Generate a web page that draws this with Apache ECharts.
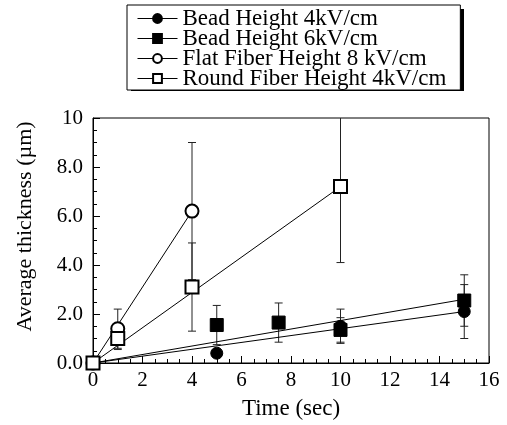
<!DOCTYPE html>
<html>
<head>
<meta charset="utf-8">
<script src="https://cdn.jsdelivr.net/npm/echarts@6/dist/echarts.min.js"></script>
<style>
  html, body { margin: 0; padding: 0; background: #fff; }
  #chart { width: 507px; height: 425px; }
</style>
</head>
<body>
<div id="chart"></div>
<script>
// 数据
const seriesNames = ['Bead Height 4kV/cm', 'Bead Height 6kV/cm', 'Flat Fiber Height 8 kV/cm', 'Round Fiber Height 4kV/cm']

const bead4X = [0, 5, 10, 15]
const bead4Y = [0, 0.4, 1.5, 2.1]
const bead4Err = [0, 0, 0.7, 1.1]

const bead6X = [0, 5, 7.5, 10, 15]
const bead6Y = [0, 1.55, 1.65, 1.35, 2.55]
const bead6Err = [0, 0.8, 0.8, 0.5, 1.05]

const flatX = [0, 1, 4]
const flatY = [0, 1.4, 6.2]
const flatErr = [0, 0.8, 2.8]

const roundX = [0, 1, 4, 10]
const roundY = [0, 1.0, 3.1, 7.2]
const roundErr = [0, 0.45, 1.8, 3.1]

// fitted lines, end points
const bead4Fit = [[0, 0], [15, 2.1]]
const bead6Fit = [[0, 0], [15, 2.6]]
const flatFit = [[0, 0], [4, 6.2]]
const roundFit = [[0, 0], [10, 7.2]]

const yTickLabels = ['0.0', '2.0', '4.0', '6.0', '8.0', '10']
const xTickLabels = ['0', '2', '4', '6', '8', '10', '12', '14', '16']

const font = '"Liberation Serif", "Times New Roman", serif'

const pts = (xs, ys) => xs.map((x, i) => [x, ys[i]])
const errPts = (xs, ys, es) => xs.map((x, i) => [x, ys[i], es[i]])

const renderErr = (params, api) => {
    const x = api.value(0), y = api.value(1), e = api.value(2)
    if (!e) return null
    const top = api.coord([x, y + e])
    const bot = api.coord([x, y - e])
    const w = 4
    const style = { stroke: '#222', lineWidth: 1 }
    return {
        type: 'group',
        children: [
            { type: 'line', shape: { x1: top[0], y1: top[1], x2: bot[0], y2: bot[1] }, style },
            { type: 'line', shape: { x1: top[0] - w, y1: top[1], x2: top[0] + w, y2: top[1] }, style },
            { type: 'line', shape: { x1: bot[0] - w, y1: bot[1], x2: bot[0] + w, y2: bot[1] }, style }
        ]
    }
}

const errSeries = (data) => ({
    type: 'custom',
    renderItem: renderErr,
    data,
    clip: true,
    z: 1,
    silent: true
})

const fitSeries = (data) => ({
    type: 'line',
    data,
    symbol: 'none',
    lineStyle: { color: '#000', width: 1 },
    z: 2,
    silent: true
})

const markSeries = (name, data, symbol, size) => ({
    name,
    type: 'line',
    data,
    symbol,
    symbolSize: size,
    showSymbol: true,
    lineStyle: { width: 0, opacity: 0 },
    itemStyle: { color: '#000', borderColor: '#000', borderWidth: 1 },
    z: 3,
    silent: true
})

const chart = echarts.init(document.getElementById('chart'))
chart.setOption({
    animation: false,
    backgroundColor: '#fff',
    grid: {
        left: 93,
        right: 18,
        top: 118,
        bottom: 60,
        show: true,
        borderColor: '#000',
        borderWidth: 1
    },
    // 图例阴影
    graphic: [{
        type: 'rect',
        left: 131,
        top: 9,
        shape: { width: 333, height: 82 },
        style: { fill: '#000' },
        z: 0,
        silent: true
    }],
    legend: {
        data: seriesNames,
        orient: 'vertical',
        left: 127,
        top: 5,
        itemWidth: 40,
        itemHeight: 11,
        itemGap: -3,
        padding: [2, 14, 0, 10],
        backgroundColor: '#fff',
        borderColor: '#000',
        borderWidth: 1,
        z: 5,
        lineStyle: { color: '#000', width: 1, opacity: 1 },
        textStyle: { fontFamily: font, fontSize: 23, color: '#000' }
    },
    xAxis: {
        type: 'value',
        min: 0,
        max: 16,
        interval: 2,
        name: 'Time (sec)',
        nameLocation: 'middle',
        nameGap: 34,
        nameTextStyle: { fontFamily: font, fontSize: 23, color: '#000' },
        axisLine: { lineStyle: { color: '#000' } },
        axisTick: { inside: true, length: 7, lineStyle: { color: '#000' } },
        minorTick: { show: true, splitNumber: 4, length: 4, lineStyle: { color: '#000' } },
        splitLine: { show: false },
        axisLabel: {
            fontFamily: font, fontSize: 21, color: '#000', margin: 7,
            formatter: v => xTickLabels[Math.round(v / 2)]
        }
    },
    yAxis: {
        type: 'value',
        min: 0,
        max: 10,
        interval: 2,
        name: 'Average thickness (µm)',
        nameLocation: 'middle',
        nameGap: 57,
        nameTextStyle: { fontFamily: font, fontSize: 22, color: '#000', padding: [0, 0, 0, 28] },
        axisLine: { lineStyle: { color: '#000' } },
        axisTick: { inside: true, length: 7, lineStyle: { color: '#000' } },
        minorTick: { show: true, splitNumber: 4, length: 4, lineStyle: { color: '#000' } },
        splitLine: { show: false },
        axisLabel: {
            fontFamily: font, fontSize: 21, color: '#000', margin: 10,
            formatter: v => yTickLabels[Math.round(v / 2)]
        }
    },
    series: [
        errSeries(errPts(bead4X, bead4Y, bead4Err)),
        errSeries(errPts(bead6X, bead6Y, bead6Err)),
        errSeries(errPts(flatX, flatY, flatErr)),
        errSeries(errPts(roundX, roundY, roundErr)),
        fitSeries(bead4Fit),
        fitSeries(bead6Fit),
        fitSeries(flatFit),
        fitSeries(roundFit),
        markSeries(seriesNames[0], pts(bead4X, bead4Y), 'circle', 12),
        markSeries(seriesNames[1], pts(bead6X, bead6Y), 'rect', 13),
        markSeries(seriesNames[2], pts(flatX, flatY), 'emptyCircle', 13),
        markSeries(seriesNames[3], pts(roundX, roundY), 'emptyRect', 13)
    ]
})
</script>
</body>
</html>
